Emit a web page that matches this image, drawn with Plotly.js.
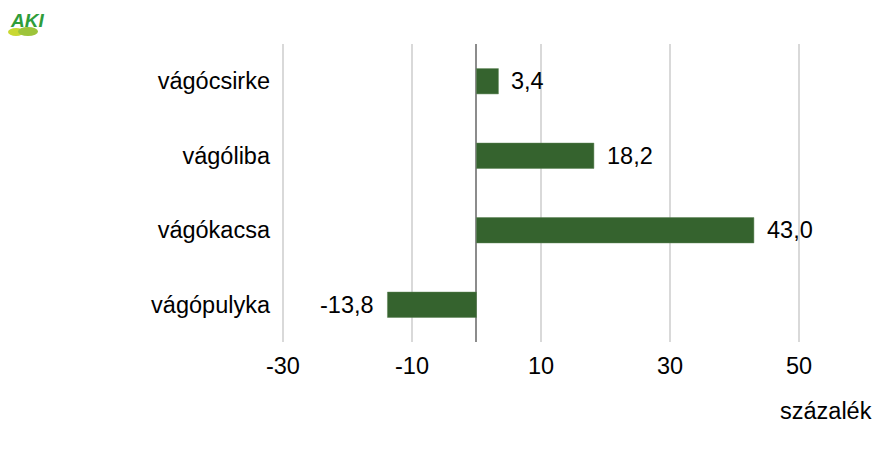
<!DOCTYPE html>
<html>
<head>
<meta charset="utf-8">
<script src="https://cdn.plot.ly/plotly-3.0.1.min.js"></script>
<style>html,body{margin:0;padding:0;background:#fff;}#chart{width:876px;height:453px;}</style>
</head>
<body>
<div id="chart"></div>
<script>
const categories = ["vágócsirke", "vágóliba", "vágókacsa", "vágópulyka"];
const values = [3.4, 18.2, 43.0, -13.8];
const tickValues = [-30, -10, 10, 30, 50];
const tickLabels = ["-30", "-10", "10", "30", "50"];
const axisTitle = "százalék";

const W = 876, H = 453;
const M = {l: 281, r: 75, t: 44, b: 111};
const pw = W - M.l - M.r, ph = H - M.t - M.b;
const px = x => (x - M.l) / pw;
const py = y => 1 - (y - M.t) / ph;

const FONT = "Liberation Sans, Arial, sans-serif";
const FS = 23.5;
const barColor = "#35632e";

const fmt = v => v.toFixed(1).replace(".", ",");

const labelAnns = values.map((v, i) => ({
  x: v, y: categories[i], xref: "x", yref: "y",
  text: fmt(v), showarrow: false,
  xanchor: v >= 0 ? "left" : "right",
  xshift: v >= 0 ? 11 : -11,
  font: {family: FONT, size: FS, color: "#000"}
}));

const data = [{
  type: "bar", orientation: "h",
  x: values, y: categories,
  marker: {color: barColor, line: {color: "#5a8052", width: 0.5}},
  width: 0.34,
  hoverinfo: "none"
}];

const layout = {
  width: W, height: H,
  margin: M,
  paper_bgcolor: "#fff", plot_bgcolor: "#fff",
  showlegend: false,
  font: {family: FONT, size: FS, color: "#000"},
  xaxis: {
    range: [-30.3, 50.3],
    tickvals: tickValues, ticktext: tickLabels,
    showgrid: true, gridcolor: "#d9d9d9", gridwidth: 1.5,
    zeroline: true, zerolinecolor: "#8c8c8c", zerolinewidth: 2,
    showline: false, ticks: "",
    tickfont: {family: FONT, size: FS, color: "#000"},
    ticklabelstandoff: 7
  },
  yaxis: {
    autorange: "reversed",
    showgrid: false, zeroline: false, showline: false, ticks: "",
    tickfont: {family: FONT, size: FS, color: "#000"},
    ticklabelstandoff: 10
  },
  annotations: labelAnns.concat([
    {x: px(874), y: py(411), xref: "paper", yref: "paper", xanchor: "right", yanchor: "middle",
     text: axisTitle, showarrow: false, font: {family: FONT, size: FS, color: "#000"}},
    {x: px(27), y: py(21), xref: "paper", yref: "paper", xanchor: "center", yanchor: "middle",
     text: "<b><i>AKI</i></b>", showarrow: false, font: {family: FONT, size: 19, color: "#2f9d3a"}}
  ]),
  shapes: [
    {type: "circle", xref: "paper", yref: "paper", x0: px(8), x1: px(24), y0: py(36), y1: py(28),
     fillcolor: "#c9d832", line: {width: 0}, layer: "above"},
    {type: "circle", xref: "paper", yref: "paper", x0: px(18), x1: px(38), y0: py(36), y1: py(27),
     fillcolor: "#9dc43a", line: {width: 0}, layer: "above"}
  ]
};

Plotly.newPlot("chart", data, layout, {displayModeBar: false, staticPlot: true});
</script>
</body>
</html>
